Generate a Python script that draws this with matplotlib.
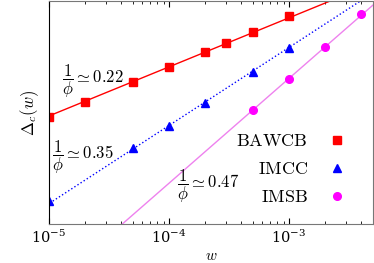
import numpy as np
import matplotlib
matplotlib.use("Agg")
import matplotlib.pyplot as plt

plt.rcParams['mathtext.fontset'] = 'cm'
plt.rcParams['font.family'] = 'serif'
plt.rcParams['font.serif'] = ['DejaVu Serif']

# data
w_bawcb = [1e-5, 2e-5, 5e-5, 1e-4, 2e-4, 3e-4, 5e-4, 1e-3]
d_bawcb = [0.0604, 0.0705, 0.0867, 0.101, 0.118, 0.130, 0.145, 0.171]
w_imcc = [1e-5, 5e-5, 1e-4, 2e-4, 5e-4, 1e-3]
d_imcc = [0.0254, 0.0438, 0.055, 0.0698, 0.096, 0.123]
w_imsb = [5e-4, 1e-3, 2e-3, 4e-3]
d_imsb = [0.0649, 0.0893, 0.124, 0.175]
exponents = [0.22, 0.35, 0.47]


def power_fit(w, d, phi_inv):
    w = np.array(w)
    d = np.array(d)
    a = np.exp(np.mean(np.log(d) - phi_inv * np.log(w)))
    return lambda x: a * x ** phi_inv


fig = plt.figure(figsize=(3.74, 2.63), dpi=100)
ax = fig.add_axes([0.131, 0.148, 0.866, 0.848])

X = np.logspace(-5.2, -2.2, 200)
series = [
    (w_bawcb, d_bawcb, exponents[0], 'red', '-', 's', 'BAWCB', 'red'),
    (w_imcc, d_imcc, exponents[1], 'blue', ':', '^', 'IMCC', 'blue'),
    (w_imsb, d_imsb, exponents[2], 'magenta', '-', 'o', 'IMSB', 'violet'),
]
for w, d, p, col, ls, mk, lab, lcol in series:
    fit = power_fit(w, d, p)
    ax.plot(X, fit(X), color=lcol, ls=ls, lw=1.0)
    ax.plot(w, d, ls='none', marker=mk, color=col, ms=5.5,
            label=r'$\mathrm{%s}$' % lab)

ax.set_xscale('log')
ax.set_yscale('log')
ax.set_xlim(1e-5, 5e-3)
ax.set_ylim(0.02, 0.2)

ax.tick_params(axis='x', which='both', direction='in', top=True,
               labelsize=10.5)
ax.tick_params(axis='x', which='major', length=4)
ax.tick_params(axis='x', which='minor', length=2)
ax.tick_params(axis='y', which='both', left=False, right=False,
               labelleft=False)
for s in ['top', 'right', 'bottom']:
    ax.spines[s].set_color('#777777')

ax.set_xlabel(r'$w$', fontsize=11, labelpad=2)
ax.set_ylabel(r'$\Delta_c(w)$', fontsize=12, labelpad=6)

ax.text(0.135, 0.64, r'$\dfrac{1}{\phi}\simeq %.2f$' % exponents[0],
        transform=ax.transAxes, fontsize=12, ha='center', va='center')
ax.text(0.105, 0.30, r'$\dfrac{1}{\phi}\simeq %.2f$' % exponents[1],
        transform=ax.transAxes, fontsize=12, ha='center', va='center')
ax.text(0.49, 0.17, r'$\dfrac{1}{\phi}\simeq %.2f$' % exponents[2],
        transform=ax.transAxes, fontsize=12, ha='center', va='center')

ax.legend(loc='lower right', markerfirst=False, frameon=False,
          fontsize=13, handletextpad=0.6, labelspacing=0.55,
          borderaxespad=0.6)

fig.savefig('out.png', dpi=100)
